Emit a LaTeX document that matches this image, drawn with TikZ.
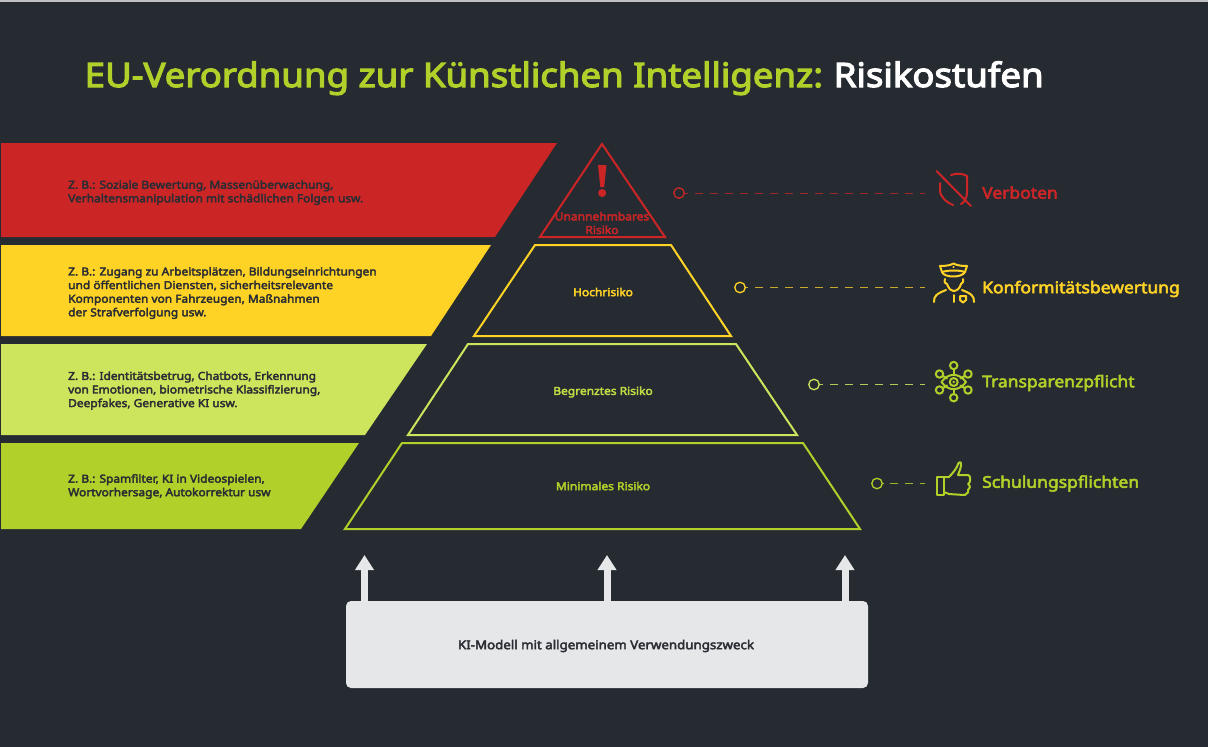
\documentclass[tikz,border=0pt]{standalone}
\usepackage{fontspec}
\setmainfont{Noto Sans}[BoldFont={Noto Sans},BoldFeatures={FakeBold=3.4,FakeStretch=1.09}]
\usetikzlibrary{arrows.meta,calc}
\definecolor{bg}{HTML}{262B32}
\definecolor{cred}{HTML}{CB2526}
\definecolor{cyel}{HTML}{FFD326}
\definecolor{clim}{HTML}{CDE55C}
\definecolor{cgrn}{HTML}{B1D029}
\definecolor{cbox}{HTML}{E6E7E9}
\definecolor{cdark}{HTML}{2A2D33}
\tikzset{
  bar/.style={fill=#1,draw=none},
  pyr/.style={draw=#1,line width=2pt,line join=miter,fill=none},
  bartext/.style={anchor=west,align=left,font=\bfseries\fontsize{10.95}{13.6}\selectfont,text=cdark,inner sep=0pt},
  pyrtext/.style={text=#1,align=center,font=\bfseries\fontsize{11}{13.6}\selectfont,inner sep=0pt},
  risklabel/.style={text=#1,anchor=west,font=\bfseries\fontsize{16.05}{20}\selectfont,inner sep=0pt},
  dot/.style={circle,draw=#1,line width=1.3pt,minimum size=10.5pt,inner sep=0pt},
  lead/.style={draw=#1,line width=1pt,dash pattern=on 8pt off 7pt,dash phase=3pt},
  icon/.style={draw=#1,line width=2pt,line cap=round,line join=round,fill=none},
  uparrow/.style={draw=cbox,line width=7pt,-{Triangle[length=15pt,width=18pt]}},
}
\begin{document}
\begin{tikzpicture}[x=1pt,y=-1pt]
\useasboundingbox (0,0) rectangle (1208,747);
\fill[bg] (0,0) rectangle (1208,747);
\fill[white!70!bg] (0,0) rectangle (1208,2);
% title
\node[anchor=base west,inner sep=0pt,font=\bfseries\fontsize{33.55}{40}\selectfont] (title) at (84.5,87)
  {\textcolor{cgrn}{EU-Verordnung zur Künstlichen Intelligenz:}\hspace{-2pt} \textcolor{white}{Risikostufen}};
% bars
\fill[bar=cred] (1,143) -- (557,143) -- (495,237) -- (1,237) -- cycle;
\fill[bar=cyel] (1,245) -- (491,245) -- (431,336) -- (1,336) -- cycle;
\fill[bar=clim] (1,344) -- (427,344) -- (365,435) -- (1,435) -- cycle;
\fill[bar=cgrn] (1,443) -- (359,443) -- (301,529) -- (1,529) -- cycle;
\node[bartext] (t1) at (68,192.6) {Z. B.: Soziale Bewertung, Massenüberwachung,\\Verhaltensmanipulation mit schädlichen Folgen usw.};
\node[bartext] (t2) at (68,293) {Z. B.: Zugang zu Arbeitsplätzen, Bildungseinrichtungen\\und öffentlichen Diensten, sicherheitsrelevante\\Komponenten von Fahrzeugen, Maßnahmen\\der Strafverfolgung usw.};
\node[bartext] (t3) at (68,390.6) {Z. B.: Identitätsbetrug, Chatbots, Erkennung\\von Emotionen, biometrische Klassifizierung,\\Deepfakes, Generative KI usw.};
\node[bartext] (t4) at (68,486.5) {Z. B.: Spamfilter, KI in Videospielen,\\Wortvorhersage, Autokorrektur usw};
% pyramid
\draw[pyr=cred] (602,144) -- (665,237) -- (540,237) -- cycle;
\draw[pyr=cyel] (535,245) -- (671,245) -- (731,336) -- (474,336) -- cycle;
\draw[pyr=clim] (468,344) -- (736,344) -- (797,435) -- (408,435) -- cycle;
\draw[pyr=cgrn] (402,443) -- (803,443) -- (860,529) -- (345,529) -- cycle;
% exclamation mark
\fill[cred] (598,165) -- (606.5,165) -- (604.2,187) -- (600.3,187) -- cycle;
\fill[cred] (602.2,193) circle (4pt);
\node[pyrtext=cred] (p1) at (602,223) {Unannehmbares\\Risiko};
\node[pyrtext=cyel] (p2) at (603,292) {Hochrisiko};
\node[pyrtext=clim!50!cgrn] (p3) at (603,392) {Begrenztes Risiko};
\node[pyrtext=cgrn] (p4) at (603,486) {Minimales Risiko};
% leaders
\node[dot=cred] (d1) at (679,193) {};
\node[dot=cyel] (d2) at (740,287.5) {};
\node[dot=clim] (d3) at (814,384.5) {};
\node[dot=cgrn] (d4) at (877,483.5) {};
\coordinate (e1) at (925,193);
\coordinate (e2) at (925,287.5);
\coordinate (e3) at (925,384.5);
\coordinate (e4) at (925,483.5);
\draw[lead=cred!75!bg] (e1) -- (d1);
\draw[lead=cyel!75!bg] (e2) -- (d2);
\draw[lead=clim!85!bg] (e3) -- (d3);
\draw[lead=cgrn!85!bg] (e4) -- (d4);
% labels
\node[risklabel=cred] (l1) at (982,192.5) {Verboten};
\node[risklabel=cyel] (l2) at (982,289) {Konformitätsbewertung};
\node[risklabel=cgrn] (l3) at (982,383) {Transparenzpflicht};
\node[risklabel=cgrn] (l4) at (982,483.5) {Schulungspflichten};
% shield icon
\draw[icon=cred] (951,175) .. controls (957,173) and (963,173.5) .. (967,176) -- (967,192) .. controls (967,200) and (962,204) .. (961,204);
\draw[icon=cred] (953,205) .. controls (948,203) and (940,198) .. (940,190) -- (940,183);
\draw[icon=cred] (936.5,171) -- (971,206);
% officer icon
\draw[icon=cyel] (940,266) .. controls (947,266) and (951,265) .. (953.5,263.5) .. controls (956,265) and (960,266) .. (967,266) -- (965,272) .. controls (962,278) and (944,278) .. (942,272) -- cycle;
\draw[icon=cyel] (942,272) .. controls (948,270) and (960,270) .. (965,272);
\draw[icon=cyel] (945,279) .. controls (944,282) and (945,284) .. (947,284) .. controls (949,289) and (951,291) .. (953.5,291) .. controls (957,291) and (960,288) .. (961,284) .. controls (963,283) and (964,281) .. (963,279);
\draw[icon=cyel] (934,302) .. controls (934,296) and (936,294) .. (946,290);
\draw[icon=cyel] (974,302) .. controls (974,296) and (972,294) .. (962,290);
\draw[icon=cyel] (953.5,295) -- (953.5,302);
\draw[icon=cyel] (960,296) -- (966,296) -- (966,300) -- (963,302.5) -- (960,300) -- cycle;
\fill[cyel] (953.5,267) circle (1.1pt);
% network eye icon
\draw[icon=cgrn] (941.5,382) .. controls (948,372.5) and (959,372.5) .. (966,382) .. controls (959,391.5) and (948,391.5) .. (941.5,382) -- cycle;
\draw[icon=cgrn] (953.7,382) circle (4pt);
\fill[cgrn] (953.7,382) circle (1.4pt);
\foreach \cx/\cy in {953.7/365.5,939.5/374,968/374,939.5/390,968/390,953.7/397.7}
  \draw[icon=cgrn] (\cx,\cy) circle (3.7pt);
\draw[icon=cgrn] (953.7,369.5) -- (953.7,375) (953.7,389) -- (953.7,394);
\draw[icon=cgrn] (943,376) -- (947,378.5) (964.5,376) -- (960.5,378.5) (943,388) -- (947,385.5) (964.5,388) -- (960.5,385.5);
% thumbs up icon
\draw[icon=cgrn] (937,477) -- (944,477) -- (944,495) -- (937,495) -- cycle;
\draw[icon=cgrn] (944,477) -- (949,477) .. controls (953,473) and (957,468) .. (958.5,463) .. controls (960,461) and (961,462) .. (961,465) .. controls (961,468) and (959,472) .. (958,475) -- (968,475) .. controls (971,475) and (971,483) .. (968,484) .. controls (971,486) and (970,489) .. (968,490) .. controls (969,491) and (968,494) .. (966,494) .. controls (966,495) and (965,495) .. (964,495) -- (949,494) -- (944,492);
% box
\node[fill=cbox,rounded corners=5pt,minimum width=522pt,minimum height=87pt,inner sep=0pt] (box) at (607,644.5) {};
\node[text=cdark,inner sep=0pt,font=\bfseries\fontsize{12.2}{15}\selectfont] (boxlabel) at (606,646) {KI-Modell mit allgemeinem Verwendungszweck};
\coordinate (a1) at (364.5,555);
\coordinate (a2) at (607,555);
\coordinate (a3) at (845,555);
\draw[uparrow] (a1 |- box.north) -- (a1);
\draw[uparrow] (a2 |- box.north) -- (a2);
\draw[uparrow] (a3 |- box.north) -- (a3);
\end{tikzpicture}
\end{document}
